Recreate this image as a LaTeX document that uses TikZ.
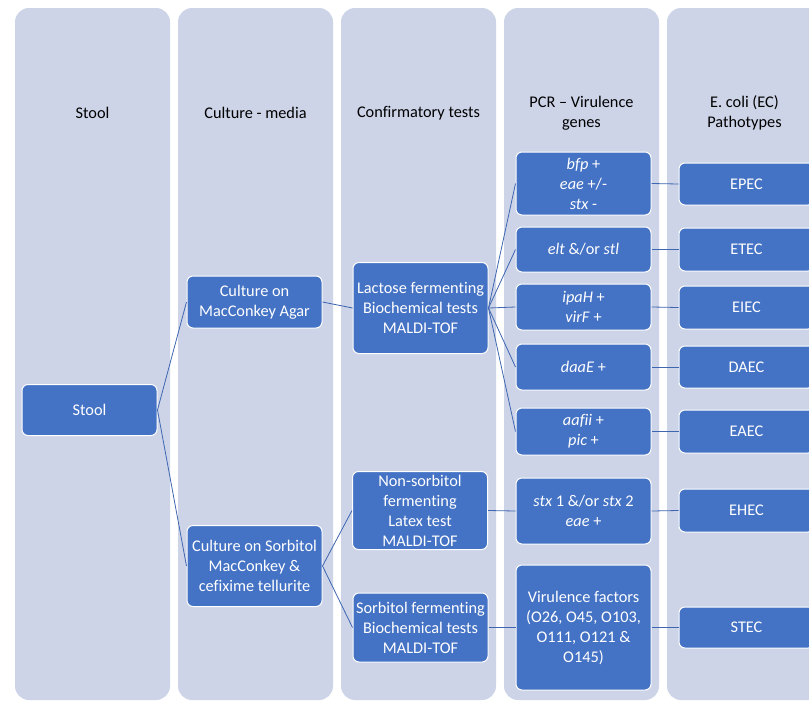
\documentclass[tikz,border=0pt]{standalone}
\usepackage{fontspec}
\setmainfont{Carlito}[Ligatures=CommonOff]
\definecolor{colbg}{HTML}{CDD4E8}
\definecolor{boxblue}{HTML}{4472C4}
\definecolor{linkblue}{HTML}{3F66B0}
\begin{document}
\begin{tikzpicture}[x=1pt,y=-1pt,
  col/.style={fill=colbg, rounded corners=14pt},
  box/.style={draw=white, line width=1pt, fill=boxblue, rounded corners=6pt, text=white, align=center,
    font=\fontsize{16.3}{20}\selectfont, inner sep=0pt, minimum width=135pt},
  head/.style={align=center, font=\fontsize{16.3}{20}\selectfont, inner sep=0pt},
  conn/.style={draw=linkblue, line width=0.8pt}]
\useasboundingbox (0,0) rectangle (809,702);
\fill[white] (0,0) rectangle (809,702);
\clip (0,0) rectangle (809,702);
% columns
\path[col] (15,8) rectangle (170,700);
\path[col] (178,8) rectangle (333,700);
\path[col] (341,8) rectangle (496,700);
\path[col] (504,8) rectangle (659,700);
\path[col] (667,8) rectangle (822,700);
% headers
\node[head] (h1) at (92.5,113) {Stool};
\node[head] (h2) at (255.5,113) {Culture - media};
\node[head] (h3) at (418.5,113) {Confirmatory tests};
\node[head] (h4) at (581.5,113) {PCR -- Virulence\\genes};
\node[head] (h5) at (744.5,113) {E. coli (EC)\\Pathotypes};
% col 1
\node[box, minimum height=51pt] (stool) at (89.5,410) {Stool};
% col 2
\node[box, minimum height=52pt] (mac) at (254.5,302) {Culture on\\MacConkey Agar};
\node[box, minimum height=81pt] (sorb) at (254.5,566) {Culture on Sorbitol\\MacConkey \&\\cefixime tellurite};
% col 3
\node[box, minimum height=91pt] (lac) at (420.5,308) {Lactose fermenting\\Biochemical tests\\MALDI-TOF};
\node[box, minimum height=78pt] (nonsorb) at (420,510.5) {Non-sorbitol\\fermenting\\Latex test\\MALDI-TOF};
\node[box, minimum height=69pt] (sorbf) at (420.5,627.5) {Sorbitol fermenting\\Biochemical tests\\MALDI-TOF};
% col 4
\node[box, minimum height=63pt] (bfp) at (583.5,183.5) {\textit{bfp} +\\\textit{eae} +/-\\\textit{stx} -};
\node[box, minimum height=45pt] (elt) at (583.5,249.5) {\textit{elt} \&/or \textit{stl}};
\node[box, minimum height=46pt] (ipa) at (583.5,307) {\textit{ipaH} +\\\textit{virF} +};
\node[box, minimum height=46pt] (daa) at (583.5,367) {\textit{daaE} +};
\node[box, minimum height=47pt] (aaf) at (583.5,431.5) {\textit{aafii} +\\\textit{pic} +};
\node[box, minimum height=66pt] (stx) at (583.5,511) {\textit{stx} 1 \&/or \textit{stx} 2\\\textit{eae} +};
\node[box, minimum height=125pt] (vir) at (583.5,627.5) {Virulence factors\\(O26, O45, O103,\\O111, O121 \&\\O145)};
% col 5
\node[box, minimum height=42pt] (epec) at (746.5,184) {EPEC};
\node[box, minimum height=43pt] (etec) at (746.5,249.5) {ETEC};
\node[box, minimum height=43pt] (eiec) at (746.5,307.5) {EIEC};
\node[box, minimum height=42pt] (daec) at (746.5,367) {DAEC};
\node[box, minimum height=43pt] (eaec) at (746.5,431.5) {EAEC};
\node[box, minimum height=43pt] (ehec) at (746.5,510.5) {EHEC};
\node[box, minimum height=41pt] (stec) at (746.5,627.5) {STEC};
% connectors
\draw[conn] (stool.east) -- (mac.west);
\draw[conn] (stool.east) -- (sorb.west);
\draw[conn] (mac.east) -- (lac.west);
\draw[conn] (sorb.east) -- (nonsorb.west);
\draw[conn] (sorb.east) -- (sorbf.west);
\foreach \t in {bfp,elt,ipa,daa,aaf}{\draw[conn] (lac.east) -- (\t.west);}
\draw[conn] (nonsorb.east) -- (stx.west);
\draw[conn] (sorbf.east) -- (vir.west);
\draw[conn] (bfp.east) -- (epec.west);
\draw[conn] (elt.east) -- (etec.west);
\draw[conn] (ipa.east) -- (eiec.west);
\draw[conn] (daa.east) -- (daec.west);
\draw[conn] (aaf.east) -- (eaec.west);
\draw[conn] (stx.east) -- (ehec.west);
\draw[conn] (vir.east) -- (stec.west);
\end{tikzpicture}
\end{document}
